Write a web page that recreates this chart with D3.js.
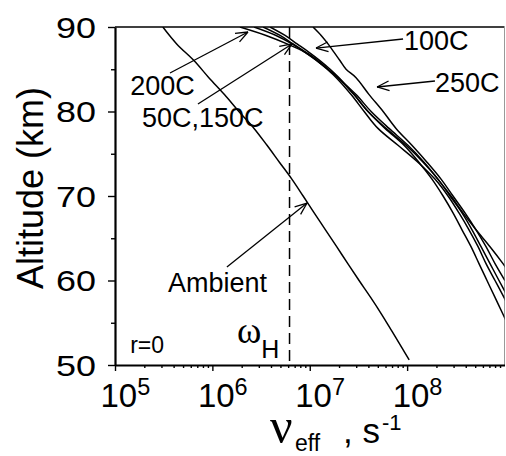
<!DOCTYPE html>
<html>
<head>
<meta charset="utf-8">
<script src="https://cdn.jsdelivr.net/npm/d3@7"></script>
<style>
body { margin: 0; background: #fff; }
text { font-family: "Liberation Sans", Arial, Helvetica, sans-serif; fill: #000; }
</style>
</head>
<body>
<script>
// altitude (km) vs effective collision frequency (s^-1)
const altAmbient = [90, 88, 86, 84, 82, 80, 78, 76, 74, 72, 70, 68, 66, 64, 62, 60, 58, 56, 54, 52, 50.6];
const nuAmbient = [3.1e5, 4.3e5, 6.5e5, 9.2e5, 1.33e6, 1.87e6, 2.68e6, 3.64e6, 4.88e6, 6.55e6, 8.55e6,
                   1.11e7, 1.45e7, 1.89e7, 2.46e7, 3.21e7, 4.22e7, 5.47e7, 6.98e7, 8.89e7, 1.05e8];

const altHeated = [90, 89, 88, 87, 86, 85, 84, 82, 80, 78, 76, 74, 72, 70, 68, 66, 64, 62, 60, 58, 56, 54];
const nu50C  = [3.32e6, 4.96e6, 6.74e6, 9.17e6, 1.22e7, 1.54e7, 1.95e7, 2.85e7, 3.97e7, 6.07e7, 9.74e7,
                1.46e8, 2.07e8, 2.76e8, 3.66e8, 4.64e8, 5.74e8, 7.10e8, 8.78e8, 1.09e9];
const nu100C = [1.08e7, 1.31e7, 1.54e7, 1.78e7, 2.05e7, 2.36e7, 2.99e7, 4.07e7, 5.67e7, 7.69e7, 1.12e8,
                1.60e8, 2.23e8, 2.96e8, 3.93e8, 5.10e8, 6.46e8, 7.99e8, 1.01e9];
const nu150C = [3.91e6, 5.58e6, 7.41e6, 9.84e6, 1.28e7, 1.62e7, 2.00e7, 2.85e7, 3.97e7, 5.93e7, 9.29e7,
                1.32e8, 1.80e8, 2.34e8, 2.96e8, 3.66e8, 4.53e8, 5.47e8, 6.61e8, 7.99e8, 9.65e8, 1.17e9];
const nu200C = [1.92e6, 3.56e6, 5.85e6, 8.96e6, 1.19e7, 1.51e7, 1.87e7, 2.66e7, 3.62e7, 5.02e7, 8.06e7,
                1.29e8, 1.93e8, 2.63e8, 3.41e8, 4.32e8, 5.35e8, 6.46e8, 7.99e8, 9.88e8, 1.22e9];
const nu250C = [2.68e6, 4.51e6, 6.58e6, 8.96e6, 1.19e7, 1.54e7, 1.95e7, 2.99e7, 4.27e7, 6.52e7, 1.02e8,
                1.49e8, 2.07e8, 2.82e8, 3.75e8, 5.10e8, 7.10e8, 9.65e8, 1.28e9];

const omegaH = 6.2e6;            // electron gyrofrequency
const xTickExp = [5, 6, 7, 8];
const yTickVals = [50, 60, 70, 80, 90];
const yMinorVals = [55, 65, 75, 85];

// labels: text, [nu, alt] of text start, arrow tail and tip
const notes = [
  {text: "200C",     at: [1.43e5, 81.95], from: [3.67e5, 84.56], to: [2.32e6, 89.41]},
  {text: "50C,150C", at: [1.89e5, 78.17], from: [7.11e5, 80.89], to: [6.58e6, 87.99]},
  {text: "100C",     at: [9.29e7, 87.28], from: [9.08e7, 88.58], to: [1.16e7, 87.51]},
  {text: "250C",     at: [1.93e8, 82.31], from: [1.93e8, 83.61], to: [4.91e7, 82.90]},
  {text: "Ambient",  at: [3.5e5, 58.64],  from: [1.41e6, 61.6],  to: [9.38e6, 69.17]}
];

const W = 506, H = 456;
const svg = d3.select("body").append("svg")
  .attr("width", W).attr("height", H);

const x = d3.scaleLog().domain([1e5, 1e9]).range([115, 504.5]);
const y = d3.scaleLinear().domain([50, 90]).range([365, 27]);

svg.append("clipPath").attr("id", "plot")
  .append("rect")
  .attr("x", x(1e5)).attr("y", y(90))
  .attr("width", x(1e9) - x(1e5)).attr("height", y(50) - y(90));

// frame: top and right
svg.append("line").attr("x1", x(1e5)).attr("x2", x(1e9)).attr("y1", y(90)).attr("y2", y(90))
  .attr("stroke", "#000").attr("stroke-width", 1.6);
svg.append("line").attr("x1", x(1e9)).attr("x2", x(1e9)).attr("y1", y(90)).attr("y2", y(50))
  .attr("stroke", "#999").attr("stroke-width", 1);

// x axis
const xMinor = [];
xTickExp.forEach(e => { for (let k = 2; k <= 9; k++) xMinor.push(k * Math.pow(10, e)); });
const xAxis = svg.append("g").attr("transform", "translate(0," + y(50) + ")");
xAxis.call(d3.axisBottom(x).tickValues(xTickExp.map(e => Math.pow(10, e))).tickSize(6).tickSizeOuter(0).tickFormat(""));
xAxis.append("g").call(d3.axisBottom(x).tickValues(xMinor).tickSize(3).tickSizeOuter(0).tickFormat(""))
  .select(".domain").remove();
xAxis.selectAll("path.domain").attr("stroke-width", 2.2);
xAxis.selectAll(".tick line").attr("stroke-width", 1.4);

const xLab = svg.append("g");
xTickExp.forEach(e => {
  const t = xLab.append("text")
    .attr("x", x(Math.pow(10, e)) - 14.5)
    .attr("y", 407)
    .style("font-size", "33px");
  t.append("tspan").text("10");
  t.append("tspan").attr("dy", -12).style("font-size", "23.5px").text(e);
});

// y axis
const yAxis = svg.append("g").attr("transform", "translate(" + x(1e5) + ",0)");
yAxis.call(d3.axisLeft(y).tickValues(yTickVals).tickSize(7).tickSizeOuter(0).tickFormat(""));
yAxis.append("g").call(d3.axisLeft(y).tickValues(yMinorVals).tickSize(4).tickSizeOuter(0).tickFormat(""))
  .select(".domain").remove();
yAxis.selectAll("path.domain").attr("stroke-width", 2.2);
yAxis.selectAll(".tick line").attr("stroke-width", 1.4);

svg.append("g").selectAll("text")
  .data(yTickVals)
  .enter()
  .append("text")
  .attr("transform", d => "translate(96," + (y(d) + 10.5) + ") scale(1.24,1)")
  .attr("text-anchor", "end")
  .style("font-size", "29px")
  .text(d => d);

// axis titles
svg.append("text")
  .attr("transform", "translate(43,188) rotate(-90)")
  .attr("text-anchor", "middle")
  .style("font-size", "36px")
  .text("Altitude (km)");

const xt = svg.append("text").attr("y", 443).style("font-size", "35px");
xt.append("tspan").attr("x", 270)
  .style("font-family", "'Liberation Serif', 'DejaVu Serif', serif").style("font-size", "50px").text("ν");
xt.append("tspan").attr("x", 295).attr("dy", 8).style("font-size", "23px").text("eff");
xt.append("tspan").attr("x", 343).attr("dy", -8).text(", s");
xt.append("tspan").attr("x", 382).attr("dy", -13).style("font-size", "22px").text("-1");

// omega_H marker
svg.append("line")
  .attr("x1", x(omegaH)).attr("x2", x(omegaH))
  .attr("y1", y(90)).attr("y2", y(50))
  .attr("stroke", "#000").attr("stroke-width", 1.5)
  .attr("stroke-dasharray", "11,6");

const wh = svg.append("text")
  .attr("x", x(1.79e6)).attr("y", y(52.6));
wh.append("tspan").style("font-family", "'Liberation Serif', 'DejaVu Serif', serif").style("font-size", "37px").text("ω");
wh.append("tspan").attr("dy", 15).style("font-size", "25px").text("H");

svg.append("text")
  .attr("x", x(1.43e5)).attr("y", y(51.42))
  .style("font-size", "23px")
  .text("r=0");

// curves
const series = [
  {name: "Ambient", nu: nuAmbient, alt: altAmbient},
  {name: "50C", nu: nu50C, alt: altHeated},
  {name: "100C", nu: nu100C, alt: altHeated},
  {name: "150C", nu: nu150C, alt: altHeated},
  {name: "200C", nu: nu200C, alt: altHeated},
  {name: "250C", nu: nu250C, alt: altHeated}
];
const line = d3.line()
  .x(d => x(d[0]))
  .y(d => y(d[1]))
  .curve(d3.curveCatmullRom);

svg.append("g").attr("clip-path", "url(#plot)")
  .selectAll("path")
  .data(series)
  .enter()
  .append("path")
  .attr("d", s => line(d3.zip(s.nu, s.alt.slice(0, s.nu.length))))
  .attr("fill", "none")
  .attr("stroke", "#000")
  .attr("stroke-width", 1.5);

// annotations
const ann = svg.append("g");
notes.forEach(n => {
  ann.append("text")
    .attr("x", x(n.at[0])).attr("y", y(n.at[1]))
    .style("font-size", "27px")
    .text(n.text);
  const x0 = x(n.from[0]), y0 = y(n.from[1]);
  const x1 = x(n.to[0]), y1 = y(n.to[1]);
  ann.append("line")
    .attr("x1", x0).attr("y1", y0).attr("x2", x1).attr("y2", y1)
    .attr("stroke", "#000").attr("stroke-width", 1.3);
  const a = Math.atan2(y1 - y0, x1 - x0);
  [-0.38, 0.38].forEach(da => {
    ann.append("line")
      .attr("x1", x1).attr("y1", y1)
      .attr("x2", x1 - 13 * Math.cos(a + da))
      .attr("y2", y1 - 13 * Math.sin(a + da))
      .attr("stroke", "#000").attr("stroke-width", 1.3);
  });
});
</script>
</body>
</html>
